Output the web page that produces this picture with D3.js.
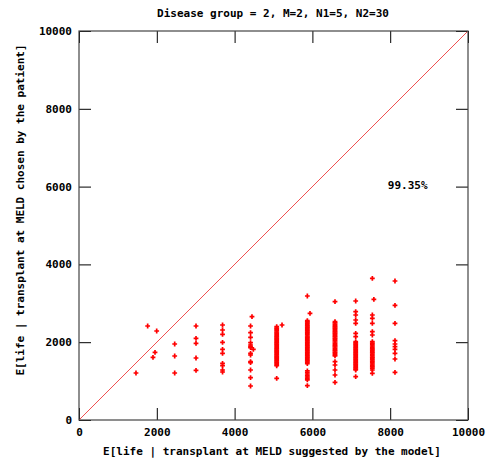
<!DOCTYPE html>
<html>
<head>
<meta charset="utf-8">
<script src="https://cdn.jsdelivr.net/npm/d3@7"></script>
<style>
  html, body { margin: 0; padding: 0; background: #fff; }
  svg text { font-family: "DejaVu Sans Mono", "Liberation Mono", monospace; font-weight: bold; font-size: 11px; fill: #000; }
</style>
</head>
<body>
<svg id="chart" width="490" height="463"></svg>
<script>
// Expected life: value suggested by the model (x) vs. value chosen by the patient (y)
const titleText = "Disease group = 2, M=2, N1=5, N2=30";
const xLabel = "E[life | transplant at MELD suggested by the model]";
const yLabel = "E[life | transplant at MELD chosen by the patient]";
const tickValues = [0, 2000, 4000, 6000, 8000, 10000];
const shareLabel = "99.35%";
const sharePos = [8450, 5950];

// Points grouped by the model-suggested value
const suggested = [1465, 1765, 1997, 1954, 1902, 2460, 3008, 3690, 4410, 4447, 4482,
                   5082, 5219, 5870, 5938, 6581, 7113, 7541, 7580, 8123];
const chosen = [
  [1208],
  [2416],
  [2288],
  [1740],
  [1612],
  [1954, 1645, 1208],
  [2416, 2100, 1971, 1594, 1278],
  [2442, 2314, 2203, 1997, 1817, 1714, 1457, 1396, 1285, 1234],
  [2416, 2244, 2126, 1987, 1928, 1884, 1859, 1714, 1671, 1499, 1473, 1285, 1087, 874],
  [2656],
  [1817],
  [2400, 2362, 2330, 2295, 2262, 2231, 2198, 2170, 2139, 2105, 2074, 2046, 2012, 1981, 1950,
   1922, 1890, 1858, 1829, 1797, 1766, 1738, 1705, 1676, 1642, 1611, 1583, 1550, 1518, 1489,
   1457, 1426, 1395, 1072],
  [2442],
  [3188, 2553, 2520, 2488, 2451, 2420, 2389, 2355, 2322, 2290, 2258, 2227, 2193, 2160, 2131,
   2098, 2066, 2034, 2002, 1968, 1937, 1904, 1873, 1841, 1808, 1776, 1744, 1712, 1680, 1646,
   1615, 1583, 1550, 1519, 1486, 1450, 1262, 1221, 1182, 1140, 1105, 1070, 1030, 882],
  [2743],
  [3041, 2527, 2495, 2460, 2428, 2396, 2362, 2330, 2299, 2265, 2233, 2199, 2168, 2135, 2101,
   2071, 2038, 2005, 1972, 1940, 1908, 1876, 1843, 1811, 1780, 1745, 1713, 1680, 1648, 1499,
   1414, 1285, 1157, 969],
  [3059, 2784, 2699, 2571, 2486, 2229, 2141, 2013, 1982, 1950, 1918, 1885, 1853, 1822, 1790,
   1757, 1725, 1693, 1661, 1628, 1596, 1563, 1531, 1500, 1467, 1435, 1403, 1370, 1338, 1307,
   1285, 1113],
  [3642, 2699, 2614, 2486, 2270, 2185, 2013, 1975, 1940, 1902, 1868, 1830, 1797, 1760, 1725,
   1690, 1652, 1618, 1582, 1546, 1510, 1475, 1440, 1404, 1368, 1330, 1285, 1200],
  [3103],
  [3573, 2948, 2486, 2039, 1954, 1884, 1817, 1714, 1568, 1226]
];

const points = suggested.flatMap((xv, i) => chosen[i].map(yv => ({ x: xv, y: yv })));

const svg = d3.select("#chart");
const plotLeft = 79, plotRight = 468, plotTop = 31, plotBottom = 420;

const x = d3.scaleLinear().domain([0, 10000]).range([plotLeft, plotRight]);
const y = d3.scaleLinear().domain([0, 10000]).range([plotBottom, plotTop]);

// Title
svg.append("text")
  .attr("x", 273).attr("y", 17)
  .attr("text-anchor", "middle")
  .text(titleText);

// Axes with inward ticks on all four sides
const tickLen = 12;
const gx = svg.append("g").attr("transform", `translate(0,${plotBottom})`)
  .call(d3.axisBottom(x).tickValues(tickValues).tickSize(-tickLen).tickPadding(8).tickFormat(d3.format("d")));
const gxTop = svg.append("g").attr("transform", `translate(0,${plotTop})`)
  .call(d3.axisTop(x).tickValues(tickValues).tickSize(-tickLen).tickFormat(""));
const gy = svg.append("g").attr("transform", `translate(${plotLeft},0)`)
  .call(d3.axisLeft(y).tickValues(tickValues).tickSize(-tickLen).tickPadding(7).tickFormat(d3.format("d")));
const gyRight = svg.append("g").attr("transform", `translate(${plotRight},0)`)
  .call(d3.axisRight(y).tickValues(tickValues).tickSize(-tickLen).tickFormat(""));

[gx, gxTop, gy, gyRight].forEach(g => {
  g.select(".domain").remove();
  g.selectAll(".tick line").attr("stroke", "#000").attr("stroke-width", 1);
  g.selectAll("text").attr("font-family", null).attr("font-size", null).attr("fill", null);
});

// Diagonal reference line
svg.append("line")
  .attr("x1", x(0)).attr("y1", y(0))
  .attr("x2", x(10000)).attr("y2", y(10000))
  .attr("stroke", "#f05050").attr("stroke-width", 1);

// Plot frame
svg.append("rect")
  .attr("x", plotLeft).attr("y", plotTop)
  .attr("width", plotRight - plotLeft).attr("height", plotBottom - plotTop)
  .attr("fill", "none").attr("stroke", "#444").attr("stroke-width", 1.2);

// Points as red plus markers
const arm = 2.4;
svg.append("g").selectAll("path")
  .data(points)
  .join("path")
  .attr("d", d => {
    const cx = x(d.x), cy = y(d.y);
    return `M${cx - arm},${cy}H${cx + arm}M${cx},${cy - arm}V${cy + arm}`;
  })
  .attr("stroke", "#ff0000")
  .attr("stroke-width", 1.7)
  .attr("fill", "none");

// Share label
svg.append("text")
  .attr("x", x(sharePos[0])).attr("y", y(sharePos[1]))
  .attr("text-anchor", "middle")
  .text(shareLabel);

// Axis titles
svg.append("text")
  .attr("x", 272).attr("y", 455)
  .attr("text-anchor", "middle")
  .text(xLabel);

svg.append("text")
  .attr("transform", "translate(24,210) rotate(-90)")
  .attr("text-anchor", "middle")
  .text(yLabel);
</script>
</body>
</html>
